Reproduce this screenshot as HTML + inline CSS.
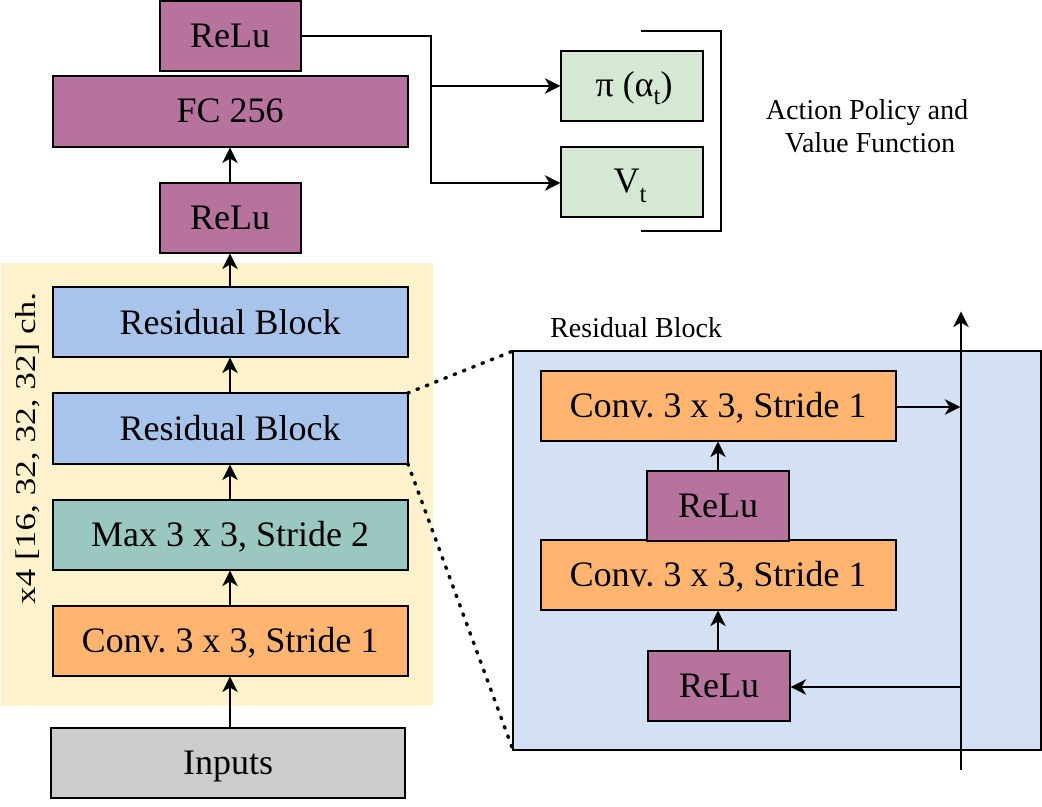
<!DOCTYPE html>
<html><head><meta charset="utf-8"><style>html,body{margin:0;padding:0;background:#fff}</style></head>
<body>
<svg width="1042" height="802" viewBox="0 0 1042 802" xmlns="http://www.w3.org/2000/svg" font-family="'Liberation Serif', serif">
<defs>
<marker id="b" viewBox="0 0 10 10" refX="9" refY="5" markerWidth="16" markerHeight="16" markerUnits="userSpaceOnUse" orient="auto">
<path d="M0,0 L10,5 L0,10 L3,5 Z" fill="#000"/></marker>
</defs>
<rect x="1" y="263" width="432" height="443" fill="#FFF2CC"/>
<rect x="513" y="351" width="528" height="399" fill="#D4E1F5" stroke="#000" stroke-width="2"/>
<g stroke="#000" stroke-width="2">
<rect x="160" y="1" width="141" height="70" fill="#B5739D"/>
<rect x="53" y="76" width="355" height="71" fill="#B5739D"/>
<rect x="160" y="183" width="141" height="70" fill="#B5739D"/>
<rect x="53" y="287" width="355" height="70" fill="#A9C4EB"/>
<rect x="53" y="393" width="355" height="71" fill="#A9C4EB"/>
<rect x="53" y="500" width="355" height="70" fill="#9AC7BF"/>
<rect x="53" y="606" width="355" height="70" fill="#FFB570"/>
<rect x="51" y="728" width="354" height="70" fill="#CCCCCC"/>
<rect x="561" y="51" width="142" height="70" fill="#D5E8D4"/>
<rect x="561" y="147" width="142" height="70" fill="#D5E8D4"/>
<rect x="541" y="371" width="355" height="70" fill="#FFB570"/>
<rect x="541" y="540" width="355" height="70" fill="#FFB570"/>
<rect x="647" y="471" width="142" height="70" fill="#B5739D"/>
<rect x="648" y="651" width="142" height="70" fill="#B5739D"/>
</g>
<g stroke="#000" stroke-width="2" fill="none">
<path d="M641,31 H721 V231 H641"/>
<path d="M301,36 H431 V183 H559" marker-end="url(#b)"/>
<path d="M431,86 H559" marker-end="url(#b)"/>
<path d="M230,727 V678" marker-end="url(#b)"/>
<path d="M230,606 V572" marker-end="url(#b)"/>
<path d="M230,500 V466" marker-end="url(#b)"/>
<path d="M230,393 V359" marker-end="url(#b)"/>
<path d="M230,287 V255" marker-end="url(#b)"/>
<path d="M230,183 V149" marker-end="url(#b)"/>
<path d="M961,770 V313" marker-end="url(#b)"/>
<path d="M896,407 H959" marker-end="url(#b)"/>
<path d="M961,687 H792" marker-end="url(#b)"/>
<path d="M718,471 V443" marker-end="url(#b)"/>
<path d="M718,651 V612" marker-end="url(#b)"/>
<path d="M408,393 L513,351" stroke-dasharray="1,9" stroke-width="3.5" stroke-linecap="round"/>
<path d="M408,464 L513,750" stroke-dasharray="1,9" stroke-width="3.5" stroke-linecap="round"/>
</g>
<g font-size="36" text-anchor="middle" fill="#000">
<text x="230" y="47">ReLu</text>
<text x="230" y="122">FC 256</text>
<text x="230" y="229">ReLu</text>
<text x="230" y="334">Residual Block</text>
<text x="230" y="440">Residual Block</text>
<text x="230" y="546">Max 3 x 3, Stride 2</text>
<text x="230" y="652">Conv. 3 x 3, Stride 1</text>
<text x="228" y="774">Inputs</text>
<text x="634" y="96">π (α<tspan font-size="25" dy="8">t</tspan><tspan dy="-8">)</tspan></text>
<text x="630" y="192">V<tspan font-size="25" dy="10">t</tspan></text>
<text x="718" y="417">Conv. 3 x 3, Stride 1</text>
<text x="718" y="586">Conv. 3 x 3, Stride 1</text>
<text x="718" y="517">ReLu</text>
<text x="719" y="697">ReLu</text>
</g>
<g font-size="28" text-anchor="middle" fill="#000">
<text x="867" y="119">Action Policy and</text>
<text x="870" y="152">Value Function</text>
<text x="636" y="337">Residual Block</text>
<text transform="translate(35,448) rotate(-90)" textLength="312" lengthAdjust="spacingAndGlyphs">x4 [16, 32, 32, 32] ch.</text>
</g>
</svg>
</body></html>
